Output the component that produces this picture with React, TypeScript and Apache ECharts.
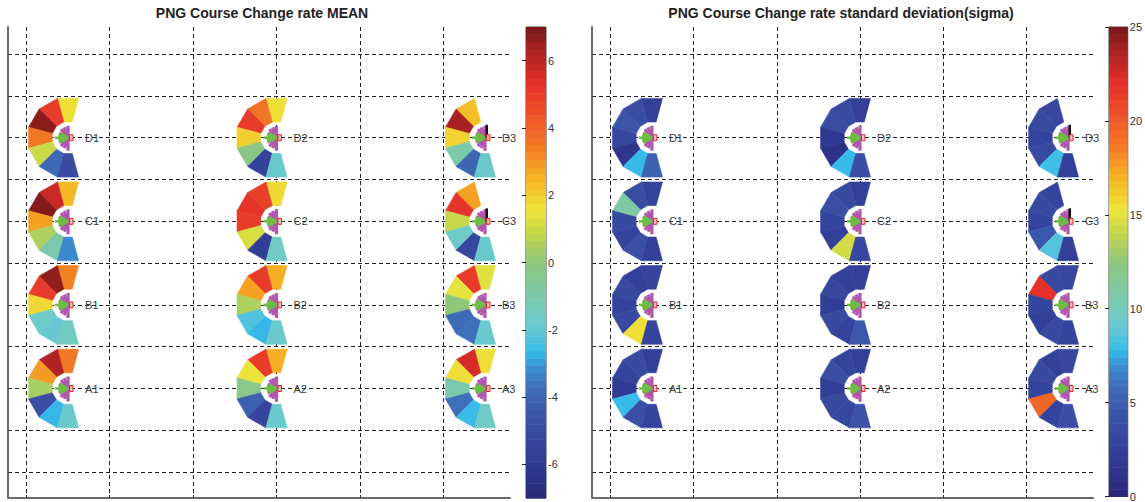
import React, { useEffect, useRef } from "react";
import * as echarts from "echarts";

// ---------- layout data ----------
const rowNames = ["A", "B", "C", "D"];
const rowY = [2, 4, 6, 8];
const colX = [0.5, 3, 5.5];
const sectorAngles = [90, 120, 150, 180, 210, 240, 270];
const xGridTicks = [0, 1, 2, 3, 4, 5];
const yGridTicks = [0, 1, 2, 3, 4, 5, 6, 7, 8, 9, 10];
const meanTicks = [-6, -4, -2, 0, 2, 4, 6];
const sigmaTicks = [0, 5, 10, 15, 20, 25];
const meanRange = [-7, 7];
const sigmaRange = [0, 25];
const titles = ["PNG Course Change rate MEAN", "PNG Course Change rate standard deviation(sigma)"];

// ---------- MEAN values (sectors at 90°,120°,...,270°) ----------
const meanA1 = [3.5, 6.2, 2.9, 0.4, -4.8, -2.7, -1.8];
const meanA2 = [2.6, 5.0, 1.6, -0.3, -4.2, -5.3, -1.8];
const meanA3 = [1.7, 5.6, 1.7, -1.1, -3.7, -2.6, -1.6];
const meanB1 = [3.3, 6.6, 5.0, 1.8, -1.7, -1.9, -1.5];
const meanB2 = [2.6, 5.0, 2.8, 0.5, -2.3, -2.7, -1.8];
const meanB3 = [1.3, 5.0, 1.4, 0.0, -3.8, -3.7, -1.8];
const meanC1 = [2.4, 5.8, 6.8, 2.8, 0.5, -1.0, -3.2];
const meanC2 = [1.8, 4.9, 5.2, 5.0, 1.2, -5.8, -1.6];
const meanC3 = [null, 2.8, 5.2, 0.9, -1.7, -5.2, -1.8];
const meanD1 = [1.7, 5.0, 6.7, 3.5, 1.0, -3.9, -5.0];
const meanD2 = [1.7, 3.6, 5.0, 2.0, -0.2, -5.5, -1.8];
const meanD3 = [null, 2.3, 6.3, 1.9, -1.0, -4.0, -1.8];

// ---------- SIGMA values ----------
const sigmaA1 = [2.5, 3.5, 3.0, 2.0, 7.8, 4.0, 3.0];
const sigmaA2 = [2.5, 3.0, 3.8, 2.2, 3.5, 3.2, 4.2];
const sigmaA3 = [3.2, 2.6, 3.5, 2.8, 19.5, 3.0, 4.0];
const sigmaB1 = [3.0, 2.5, 3.5, 2.8, 3.5, 15.5, 3.0];
const sigmaB2 = [2.6, 2.5, 3.2, 2.2, 3.5, 2.8, 4.5];
const sigmaB3 = [3.2, 3.5, 22.0, 3.0, 2.5, 3.5, 2.8];
const sigmaC1 = [2.8, 3.8, 11.0, 3.5, 3.0, 4.0, 2.6];
const sigmaC2 = [2.5, 3.5, 4.0, 3.0, 2.5, 14.5, 3.2];
const sigmaC3 = [null, 3.0, 3.5, 3.0, 4.5, 8.5, 2.5];
const sigmaD1 = [2.5, 3.8, 4.3, 3.2, 1.5, 7.8, 5.2];
const sigmaD2 = [2.4, 3.6, 3.8, 1.8, 1.0, 7.8, 4.0];
const sigmaD3 = [null, 3.2, 3.6, 2.8, 3.5, 8.0, 2.6];

const meanGrid = [
  [meanA1, meanA2, meanA3],
  [meanB1, meanB2, meanB3],
  [meanC1, meanC2, meanC3],
  [meanD1, meanD2, meanD3],
];
const sigmaGrid = [
  [sigmaA1, sigmaA2, sigmaA3],
  [sigmaB1, sigmaB2, sigmaB3],
  [sigmaC1, sigmaC2, sigmaC3],
  [sigmaD1, sigmaD2, sigmaD3],
];

// ---------- colour map (style) ----------
const colorStops: [number, string][] = [
  [0, "#282878"], [0.1, "#33409a"], [0.16, "#3a4fa3"], [0.23, "#3e6bb7"],
  [0.28, "#3b8fd2"], [0.31, "#35bbea"], [0.35, "#5ec6d8"], [0.38, "#6fcbc8"],
  [0.43, "#7bc9aa"], [0.5, "#8ec77c"], [0.56, "#c2d64c"], [0.61, "#eee63b"],
  [0.68, "#f6b324"], [0.74, "#f37e25"], [0.8, "#ef5a28"], [0.88, "#e6302a"],
  [0.95, "#a92222"], [1, "#761818"],
];
function hexToRgb(h: string) {
  return [1, 3, 5].map((i) => parseInt(h.slice(i, i + 2), 16));
}
function sampleMap(t: number) {
  for (let i = 0; i < colorStops.length - 1; i++) {
    const [t0, c0] = colorStops[i];
    const [t1, c1] = colorStops[i + 1];
    if (t >= t0 && t <= t1) {
      const f = (t - t0) / (t1 - t0 || 1);
      const a = hexToRgb(c0), b = hexToRgb(c1);
      const m = a.map((v, k) => Math.round(v + (b[k] - v) * f));
      return `rgb(${m[0]},${m[1]},${m[2]})`;
    }
  }
  return colorStops[colorStops.length - 1][1];
}
const palette = Array.from({ length: 101 }, (_, i) => sampleMap(i / 100));

const RX = 0.49;
const RY = 0.975;
const INNER = 0.4;
const BANDS = 64;

function sectorData(grid: (number | null)[][][]) {
  const out: number[][] = [];
  grid.forEach((row, r) =>
    row.forEach((vals, c) =>
      vals.forEach((v, k) => {
        if (v !== null) out.push([colX[c], rowY[r], k, v]);
      })
    )
  );
  return out;
}
function glyphData(grid: (number | null)[][][]) {
  const out: number[][] = [];
  grid.forEach((row, r) =>
    row.forEach((vals, c) => out.push([colX[c], rowY[r], r, c, vals[0] === null ? 1 : 0]))
  );
  return out;
}
function bandData(range: number[]) {
  const step = (range[1] - range[0]) / BANDS;
  return Array.from({ length: BANDS }, (_, i) => {
    const lo = range[0] + i * step;
    return [0, lo, lo + step, lo + step / 2];
  });
}

const renderSector = (params: any, api: any) => {
  const cx = api.value(0), cy = api.value(1), k = api.value(2);
  const a0 = ((sectorAngles[k] - 15) * Math.PI) / 180;
  const a1 = ((sectorAngles[k] + 15) * Math.PI) / 180;
  const pt = (r: number, a: number) => api.coord([cx + r * RX * Math.cos(a), cy + r * RY * Math.sin(a)]);
  const color = api.visual("color");
  return {
    type: "polygon",
    shape: { points: [pt(INNER, a0), pt(1, a0), pt(1, a1), pt(INNER, a1)] },
    style: { fill: color, stroke: color, lineWidth: 0.6 },
  };
};

const PURPLE = "#b257ae";
const GREEN = "#6dbd45";
const renderGlyph = (params: any, api: any) => {
  const c = api.coord([api.value(0), api.value(1)]);
  const r = api.value(2), col = api.value(3), bar = api.value(4);
  const children: any[] = [];
  const spoke = (deg: number, len: number, color: string, w: number) => {
    const a = (deg * Math.PI) / 180;
    children.push({
      type: "line",
      shape: { x1: c[0], y1: c[1], x2: c[0] + len * Math.cos(a), y2: c[1] - len * Math.sin(a) },
      style: { stroke: color, lineWidth: w, lineCap: "butt" },
    });
  };
  [[90, 12], [110, 11], [130, 11], [152, 10], [208, 10], [230, 11], [250, 11], [270, 13]].forEach(([d, l]) =>
    spoke(d, l, PURPLE, 3.2)
  );
  [[150, 9], [165, 10], [180, 13], [195, 10], [210, 9]].forEach(([d, l]) => spoke(d, l, GREEN, 2.6));
  if (bar) {
    children.push({
      type: "rect",
      shape: { x: c[0] + 0.5, y: c[1] - 13, width: 2.5, height: 13 },
      style: { fill: "#111" },
    });
  }
  children.push({
    type: "rect",
    shape: { x: c[0] + 1.5, y: c[1] - 3, width: 3.5, height: 6 },
    style: { fill: "#f7b8b8", stroke: "#e3262a", lineWidth: 1 },
  });
  children.push({
    type: "text",
    x: c[0] + 17,
    y: c[1],
    style: {
      text: rowNames[r] + String(col + 1),
      fill: "#3a3a3a",
      font: "11px Arial, 'Liberation Sans', sans-serif",
      textAlign: "left",
      textVerticalAlign: "middle",
    },
  });
  return { type: "group", children };
};

const renderBand = (params: any, api: any) => {
  const p0 = api.coord([0, api.value(1)]);
  const p1 = api.coord([1, api.value(2)]);
  const color = api.visual("color");
  return {
    type: "rect",
    shape: { x: p0[0], y: p1[1], width: p1[0] - p0[0], height: p0[1] - p1[1] + 0.5 },
    style: { fill: color, stroke: null },
  };
};

const plotXAxis = (gridIndex: number) => ({
  type: "value",
  gridIndex,
  min: -0.22,
  max: 5.8,
  axisLine: { show: true, onZero: false, lineStyle: { color: "#6a6a6a", width: 2 } },
  axisTick: { show: true, inside: true, length: 3, customValues: xGridTicks, lineStyle: { color: "#333" } },
  axisLabel: { show: false },
  splitLine: { show: true, lineStyle: { color: "#222", type: [4, 3], width: 1 } },
});
const plotYAxis = (gridIndex: number) => ({
  type: "value",
  gridIndex,
  min: -0.62,
  max: 10.65,
  axisLine: { show: true, onZero: false, lineStyle: { color: "#6a6a6a", width: 2 } },
  axisTick: { show: true, inside: true, length: 3, customValues: yGridTicks, lineStyle: { color: "#333" } },
  axisLabel: { show: false },
  splitLine: { show: true, lineStyle: { color: "#222", type: [4, 3], width: 1 } },
});
const cbXAxis = (gridIndex: number) => ({
  type: "value", gridIndex, min: 0, max: 1, show: false,
});
const cbYAxis = (gridIndex: number, range: number[], ticks: number[], position: string, labels: boolean) => ({
  type: "value",
  gridIndex,
  min: range[0],
  max: range[1],
  position,
  axisLine: { show: false },
  axisTick: { show: true, inside: true, length: 4, customValues: ticks, lineStyle: { color: "#222", width: 1 } },
  axisLabel: labels
    ? { show: true, customValues: ticks, margin: 2, fontSize: 11, color: "#333", fontFamily: "Arial, 'Liberation Sans', sans-serif" }
    : { show: false },
  splitLine: { show: false },
});

export default function App() {
  const ref = useRef<HTMLDivElement>(null);
  useEffect(() => {
    if (!ref.current) return;
    const chart = echarts.init(ref.current, undefined, { renderer: "svg" });
    const option: any = {
      animation: false,
      backgroundColor: "#ffffff",
      grid: [
        { left: 8, top: 27, width: 502, height: 471, show: false },
        { left: 592, top: 27, width: 501, height: 471, show: false },
        { left: 526, top: 27, width: 20, height: 471, show: true, borderColor: "#444", borderWidth: 1 },
        { left: 1109, top: 27, width: 21, height: 471, show: true, borderColor: "#444", borderWidth: 1 },
      ],
      xAxis: [plotXAxis(0), plotXAxis(1), cbXAxis(2), cbXAxis(3)],
      yAxis: [
        plotYAxis(0),
        plotYAxis(1),
        cbYAxis(2, meanRange, meanTicks, "right", true),
        cbYAxis(2, meanRange, meanTicks, "left", false),
        cbYAxis(3, sigmaRange, sigmaTicks, "right", true),
        cbYAxis(3, sigmaRange, sigmaTicks, "left", false),
      ],
      visualMap: [
        { type: "continuous", show: false, min: meanRange[0], max: meanRange[1], dimension: 3, seriesIndex: [0, 2], inRange: { color: palette } },
        { type: "continuous", show: false, min: sigmaRange[0], max: sigmaRange[1], dimension: 3, seriesIndex: [1, 3], inRange: { color: palette } },
      ],
      series: [
        { type: "custom", name: "mean", xAxisIndex: 0, yAxisIndex: 0, renderItem: renderSector, data: sectorData(meanGrid), z: 3 },
        { type: "custom", name: "sigma", xAxisIndex: 1, yAxisIndex: 1, renderItem: renderSector, data: sectorData(sigmaGrid), z: 3 },
        { type: "custom", name: "meanBar", xAxisIndex: 2, yAxisIndex: 2, renderItem: renderBand, data: bandData(meanRange), z: 1 },
        { type: "custom", name: "sigmaBar", xAxisIndex: 3, yAxisIndex: 4, renderItem: renderBand, data: bandData(sigmaRange), z: 1 },
        { type: "custom", name: "meanGlyph", xAxisIndex: 0, yAxisIndex: 0, renderItem: renderGlyph, data: glyphData(meanGrid), z: 4 },
        { type: "custom", name: "sigmaGlyph", xAxisIndex: 1, yAxisIndex: 1, renderItem: renderGlyph, data: glyphData(sigmaGrid), z: 4 },
      ],
      graphic: [
        {
          type: "text", x: 262, y: 6,
          style: { text: titles[0], textAlign: "center", textVerticalAlign: "top", fill: "#222", font: "bold 14px Arial, 'Liberation Sans', sans-serif" },
        },
        {
          type: "text", x: 841, y: 6,
          style: { text: titles[1], textAlign: "center", textVerticalAlign: "top", fill: "#222", font: "bold 14px Arial, 'Liberation Sans', sans-serif" },
        },
      ],
    };
    chart.setOption(option);
    return () => chart.dispose();
  }, []);
  return <div ref={ref} style={{ position: "fixed", left: 0, top: 0, width: 1145, height: 502 }} />;
}
